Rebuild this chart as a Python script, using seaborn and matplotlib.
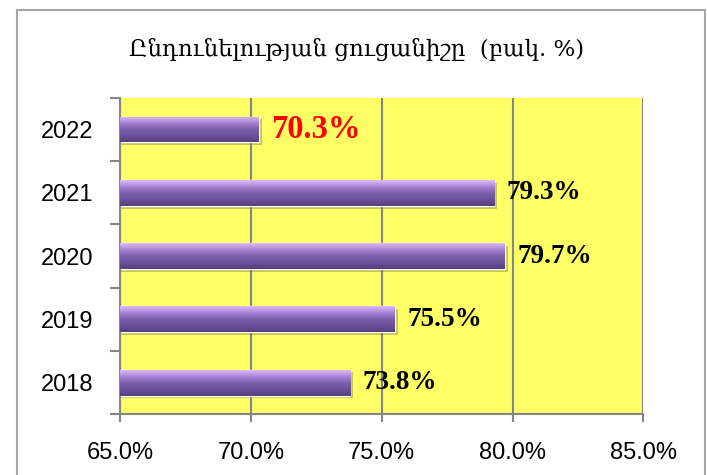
import numpy as np
import pandas as pd
import seaborn as sns
from matplotlib import pyplot as plt
from matplotlib import patheffects
from matplotlib.colors import LinearSegmentedColormap
from matplotlib.patches import Rectangle

years = ["2022", "2021", "2020", "2019", "2018"]
rates = [70.3, 79.3, 79.7, 75.5, 73.8]
label_colors = ["#ff0000", "black", "black", "black", "black"]
label_sizes = [23.5, 19.5, 19.5, 19.5, 19.5]
x_ticks = [65, 70, 75, 80, 85]
title = "Ընդունելության ցուցանիշը  (բակ. %)"

df = pd.DataFrame({"year": years, "rate": rates})

sns.set_style("white")
plt.rcParams['font.family'] = ['Liberation Sans', 'DejaVu Sans']
plt.rcParams['text.color'] = 'black'

fig = plt.figure(figsize=(7.07, 4.75), dpi=100)
ax = fig.add_axes([0.17, 0.128, 0.74, 0.666])
ax.set_facecolor("#ffff66")

sns.barplot(data=df, x="rate", y="year", order=years, orient="h",
            color="#7a5aa8", width=0.41, ax=ax, zorder=2)

# purple gradient on every bar, with a soft shadow
bar_cmap = LinearSegmentedColormap.from_list(
    "bar", ["#dcbcfc", "#a983d8", "#7d5eac", "#6d5099", "#573f7e"])
grad = np.linspace(0, 1, 64).reshape(-1, 1)
for patch in ax.patches:
    patch.set_path_effects([patheffects.withSimplePatchShadow(
        offset=(2, -2), shadow_rgbFace="#404020", alpha=0.3)])
    y0, h = patch.get_y(), patch.get_height()
    img = ax.imshow(grad, cmap=bar_cmap, aspect="auto", origin="upper",
                    extent=(65, patch.get_x() + patch.get_width(), y0 + h, y0),
                    zorder=3, interpolation="bicubic")
    img.set_clip_path(patch)

ax.set_xlim(65, 85)
ax.set_ylim(4.5, -0.5)

ax.bar_label(ax.containers[0], labels=[f"{v}%" for v in rates], padding=9,
             fontweight="bold", family="Liberation Serif")
for txt, c, s in zip(ax.texts, label_colors, label_sizes):
    txt.set_color(c)
    txt.set_fontsize(s)

ax.set_axisbelow(True)
ax.grid(axis="x", color="#868686", lw=1.5)
ax.grid(axis="y", visible=False)
sns.despine(ax=ax, top=True, right=True)
for s in ["left", "bottom"]:
    ax.spines[s].set_color("#868686")
    ax.spines[s].set_linewidth(1.5)

ax.set_xticks(x_ticks)
ax.set_xticklabels([f"{v:.1f}%" for v in x_ticks])
ax.tick_params(axis="x", length=6, width=1.5, color="#868686", labelsize=17,
               labelcolor="black", pad=14, bottom=True)
ax.set_yticks(range(len(years)))
ax.set_yticks(np.arange(-0.5, len(years)), minor=True)
ax.tick_params(axis="y", which="major", length=0, labelsize=17,
               labelcolor="black", pad=19.5, left=True)
ax.tick_params(axis="y", which="minor", length=7, width=1.5, color="#868686", left=True)
ax.set_xlabel("")
ax.set_ylabel("")

fig.text(0.505, 0.895, title, ha="center", va="center", fontsize=16.5,
         family="DejaVu Serif", color="black")

fig.add_artist(Rectangle((17 / 707, -0.1), (705 - 17) / 707, 1.079,
                         transform=fig.transFigure, fill=False,
                         edgecolor="#a6a6a6", lw=1.5))

fig.savefig("out.png", dpi=100)
